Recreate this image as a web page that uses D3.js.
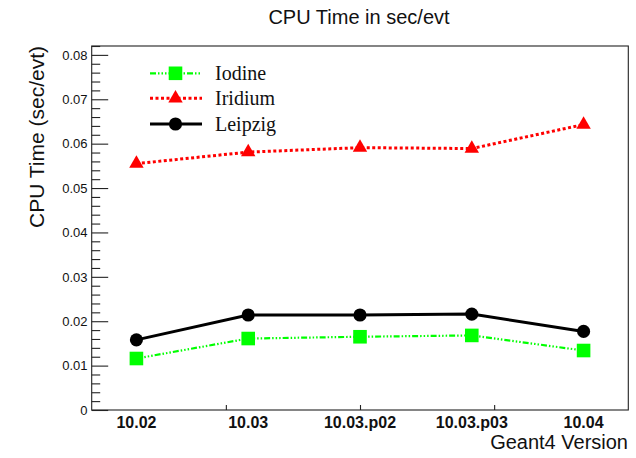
<!DOCTYPE html>
<html>
<head>
<meta charset="utf-8">
<script src="https://cdn.jsdelivr.net/npm/d3@7"></script>
<style>
  html, body { margin: 0; padding: 0; background: #fff; }
  svg { display: block; }
</style>
</head>
<body>
<svg id="chart" width="636" height="458"></svg>
<script>
// Geant4 versions along the x axis
const versions = ["10.02", "10.03", "10.03.p02", "10.03.p03", "10.04"];
// CPU time per event (sec/evt) for each material
const iodine  = [0.0116, 0.0161, 0.0165, 0.0168, 0.0134];
const iridium = [0.0555, 0.0581, 0.0591, 0.0589, 0.0643];
const leipzig = [0.0158, 0.0214, 0.0214, 0.0216, 0.0177];
const yTicks = [0, 0.01, 0.02, 0.03, 0.04, 0.05, 0.06, 0.07, 0.08];

const svg = d3.select("#chart");
const frame = { left: 91.7, right: 628.3, top: 46, bottom: 410 };

// Points sit at 1..5 on a numeric axis that runs from 0.6 to 5.4
const x = d3.scaleLinear().domain([0.6, 5.4]).range([frame.left, frame.right]);
const y = d3.scaleLinear().domain([0, 0.082]).range([frame.bottom, frame.top]);

// frame
svg.append("rect")
  .attr("x", frame.left).attr("y", frame.top)
  .attr("width", frame.right - frame.left).attr("height", frame.bottom - frame.top)
  .attr("fill", "none").attr("stroke", "#222").attr("stroke-width", 1.1);

// y axis: major ticks with labels, 4 minor ticks between majors
const yAxis = d3.axisRight(y).tickValues(yTicks).tickSize(16.5).tickFormat("");
svg.append("g").attr("transform", `translate(${frame.left},0)`).call(yAxis)
  .call(g => g.select(".domain").remove())
  .call(g => g.selectAll("line").attr("stroke", "#222").attr("stroke-width", 1.1));
const minor = [];
for (let v = 0; v <= 0.0821; v += 0.002) minor.push(+v.toFixed(3));
svg.append("g").attr("transform", `translate(${frame.left},0)`)
  .call(d3.axisRight(y).tickValues(minor.filter(v => Math.round(v * 1000) % 10 !== 0)).tickSize(8.5).tickFormat(""))
  .call(g => g.select(".domain").remove())
  .call(g => g.selectAll("line").attr("stroke", "#222").attr("stroke-width", 1.1));

svg.append("g").selectAll("text").data(yTicks).join("text")
  .attr("x", 87.5).attr("y", d => y(d)).attr("dy", "0.36em")
  .attr("text-anchor", "end")
  .attr("font-family", "Liberation Sans, Arial, sans-serif").attr("font-size", 13)
  .attr("fill", "#111")
  .text(d => d === 0 ? "0" : d3.format(".2f")(d));

// x axis: numeric divisions at the bottom, version labels at the points
svg.append("g").attr("transform", `translate(0,${frame.bottom})`)
  .call(d3.axisTop(x).tickValues([1.8, 3.0, 4.2]).tickSize(5).tickFormat(""))
  .call(g => g.select(".domain").remove())
  .call(g => g.selectAll("line").attr("stroke", "#222").attr("stroke-width", 1.1));

svg.append("g").selectAll("text").data(versions).join("text")
  .attr("x", (d, i) => x(i + 1)).attr("y", 428)
  .attr("text-anchor", "middle")
  .attr("font-family", "Liberation Sans, Arial, sans-serif").attr("font-weight", "bold")
  .attr("font-size", 16).attr("fill", "#111")
  .text(d => d);

// titles
svg.append("text").attr("x", 359).attr("y", 24).attr("text-anchor", "middle")
  .attr("font-family", "Liberation Sans, Arial, sans-serif").attr("font-size", 20).attr("fill", "#111")
  .text("CPU Time in sec/evt");
svg.append("text").attr("x", 628).attr("y", 449).attr("text-anchor", "end")
  .attr("font-family", "Liberation Sans, Arial, sans-serif").attr("font-size", 20).attr("fill", "#111")
  .text("Geant4 Version");
svg.append("text")
  .attr("transform", "translate(44,46) rotate(-90)")
  .attr("text-anchor", "end")
  .attr("font-family", "Liberation Sans, Arial, sans-serif").attr("font-size", 21).attr("fill", "#111")
  .text("CPU Time (sec/evt)");

// series definitions
const series = [
  { name: "Iodine",  values: iodine,  color: "#00ff00", width: 2.2, dash: "6,2,1.5,2,1.5,2,1.5,2", marker: d3.symbolSquare,   size: 185 },
  { name: "Iridium", values: iridium, color: "#ff0000", width: 3,   dash: "3,2.5",                  marker: d3.symbolTriangle, size: 90 },
  { name: "Leipzig", values: leipzig, color: "#000000", width: 3,   dash: null,                     marker: d3.symbolCircle,   size: 135 }
];

const line = d3.line().x((d, i) => x(i + 1)).y(d => y(d));

series.forEach(s => {
  svg.append("path").datum(s.values)
    .attr("d", line).attr("fill", "none")
    .attr("stroke", s.color).attr("stroke-width", s.width)
    .attr("stroke-dasharray", s.dash);
  svg.append("g").selectAll("path").data(s.values).join("path")
    .attr("transform", (d, i) => `translate(${x(i + 1)},${y(d)})`)
    .attr("d", d3.symbol(s.marker, s.size))
    .attr("fill", s.color);
});

// legend
const legY = [73.3, 98.3, 124];
series.forEach((s, k) => {
  const g = svg.append("g").attr("transform", `translate(0,${legY[k]})`);
  g.append("line").attr("x1", 150).attr("x2", 202).attr("y1", 0).attr("y2", 0)
    .attr("stroke", s.color).attr("stroke-width", s.width).attr("stroke-dasharray", s.dash);
  g.append("path").attr("transform", "translate(175.5,0)")
    .attr("d", d3.symbol(s.marker, s.size)).attr("fill", s.color);
  g.append("text").attr("x", 215).attr("y", 6.5)
    .attr("font-family", "Liberation Serif, Times New Roman, serif").attr("font-size", 20)
    .attr("fill", "#111").text(s.name);
});
</script>
</body>
</html>
